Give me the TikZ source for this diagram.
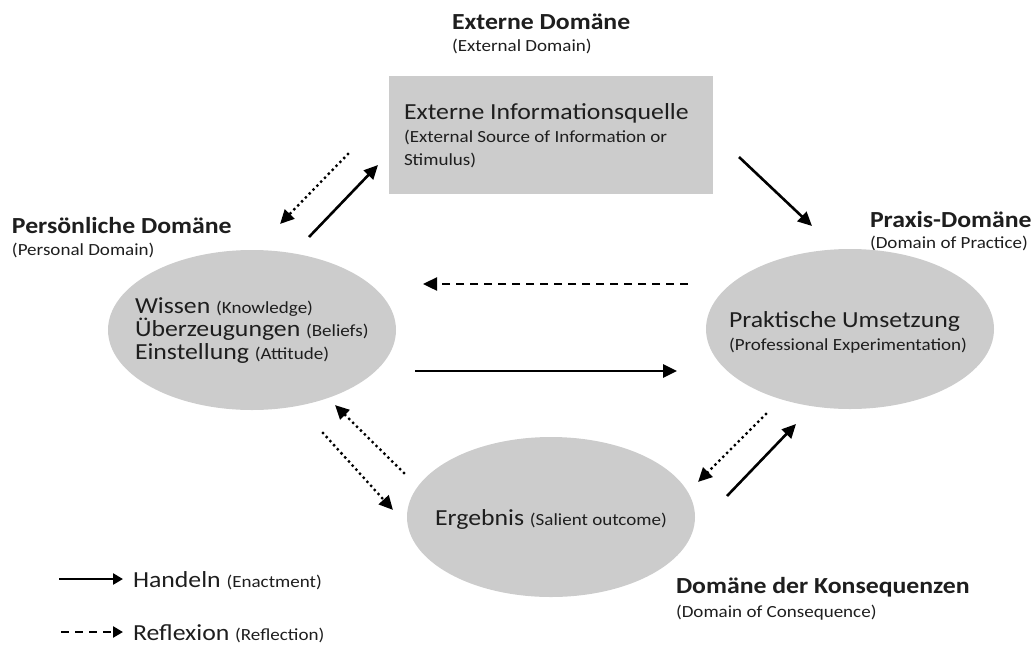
\documentclass[tikz,border=0pt]{standalone}
\usepackage{fontspec}
\setmainfont{Carlito}[FakeStretch=1.12]
\usetikzlibrary{arrows.meta,shapes.geometric}
\definecolor{shade}{HTML}{CCCCCC}
\definecolor{ink}{HTML}{1E1E1E}
\newcommand\bigf{\fontsize{23}{23}\selectfont}
\newcommand\smf{\fontsize{17}{23}\selectfont}
\begin{document}
\begin{tikzpicture}[x=1pt,y=-1pt,
  every node/.style={text=ink, inner sep=0pt, outer sep=0pt},
  blob/.style={ellipse, fill=shade, minimum width=288pt, minimum height=160pt},
  srcbox/.style={rectangle, fill=shade, minimum width=324pt, minimum height=118pt},
  inner/.style={align=left, font=\bigf},
  title/.style={anchor=base west, font=\fontsize{23}{23}\selectfont\bfseries},
  subtitle/.style={anchor=base west, font=\smf},
  act/.style={line width=2.6pt, -{Triangle[length=14pt,width=13pt]}},
  refl/.style={line width=3.3pt, line cap=round, dash pattern=on 0pt off 5.5pt, -{Triangle[length=14pt,width=13pt]}},
  refldash/.style={line width=2.4pt, dash pattern=on 8pt off 6pt, -{Triangle[length=14pt,width=13pt]}},
  legact/.style={line width=2.6pt, -{Triangle[length=10pt,width=11pt]}},
  legrefl/.style={line width=2.4pt, dash pattern=on 7.5pt off 6.5pt, -{Triangle[length=10pt,width=11pt]}},
]
\useasboundingbox (0,0) rectangle (1035,651);

% domain labels
\node[title] (extT) at (452,29) {Externe Domäne};
\node[subtitle] (extS) at (452,51) {(External Domain)};
\node[title] (perT) at (12,233) {Persönliche Domäne};
\node[subtitle] (perS) at (12,255) {(Personal Domain)};
\node[title] (praT) at (870,227) {Praxis-Domäne};
\node[subtitle] (praS) at (870,248) {(Domain of Practice)};
\node[title] (konT) at (676,593) {Domäne der Konsequenzen};
\node[subtitle] (konS) at (676,617) {(Domain of Consequence)};

% main shapes
\node[srcbox] (src) at (551,135) {};
\node[inner, anchor=west] (srctext) at (404,136)
  {Externe Informationsquelle\\{\smf (External Source of Information or}\\{\smf Stimulus)}};
\node[blob] (pers) at (252,330) {};
\node[inner, anchor=west] (perstext) at (135,331)
  {Wissen {\smf (Knowledge)}\\Überzeugungen {\smf (Beliefs)}\\Einstellung {\smf (Attitude)}};
\node[blob] (prax) at (850,329) {};
\node[inner, anchor=west] (praxtext) at (729,332)
  {Praktische Umsetzung\\{\smf (Professional Experimentation)}};
\node[blob] (erg) at (551,517) {};
\node[inner] (ergtext) at (551,519) {Ergebnis {\smf (Salient outcome)}};

% arrow end points
\coordinate (a1s) at (309,237); \coordinate (a1e) at (378,165);
\coordinate (a2s) at (348,154); \coordinate (a2e) at (280,224);
\coordinate (a3s) at (739,157); \coordinate (a3e) at (812,226);
\coordinate (a4s) at (688,284); \coordinate (a4e) at (423,284);
\coordinate (a5s) at (415,371); \coordinate (a5e) at (677,371);
\coordinate (a6s) at (404,473); \coordinate (a6e) at (335,405);
\coordinate (a7s) at (323,433); \coordinate (a7e) at (393,510);
\coordinate (a8s) at (766,414); \coordinate (a8e) at (698,482);
\coordinate (a9s) at (727,496); \coordinate (a9e) at (796,424);

\draw[act] (a1s) -- (a1e);
\draw[refl] (a2s) -- (a2e);
\draw[act] (a3s) -- (a3e);
\draw[refldash] (a4s) -- (a4e);
\draw[act] (a5s) -- (a5e);
\draw[refl] (a6s) -- (a6e);
\draw[refl] (a7s) -- (a7e);
\draw[refl] (a8s) -- (a8e);
\draw[act] (a9s) -- (a9e);

% legend
\coordinate (l1s) at (59,579); \coordinate (l1e) at (123,579);
\coordinate (l2s) at (61,632); \coordinate (l2e) at (123,632);
\draw[legact] (l1s) -- (l1e);
\draw[legrefl] (l2s) -- (l2e);
\node[anchor=base west, font=\bigf] (leg1) at (133,587) {Handeln {\smf (Enactment)}};
\node[anchor=base west, font=\bigf] (leg2) at (133,640) {Reflexion {\smf (Reflection)}};
\end{tikzpicture}
\end{document}
